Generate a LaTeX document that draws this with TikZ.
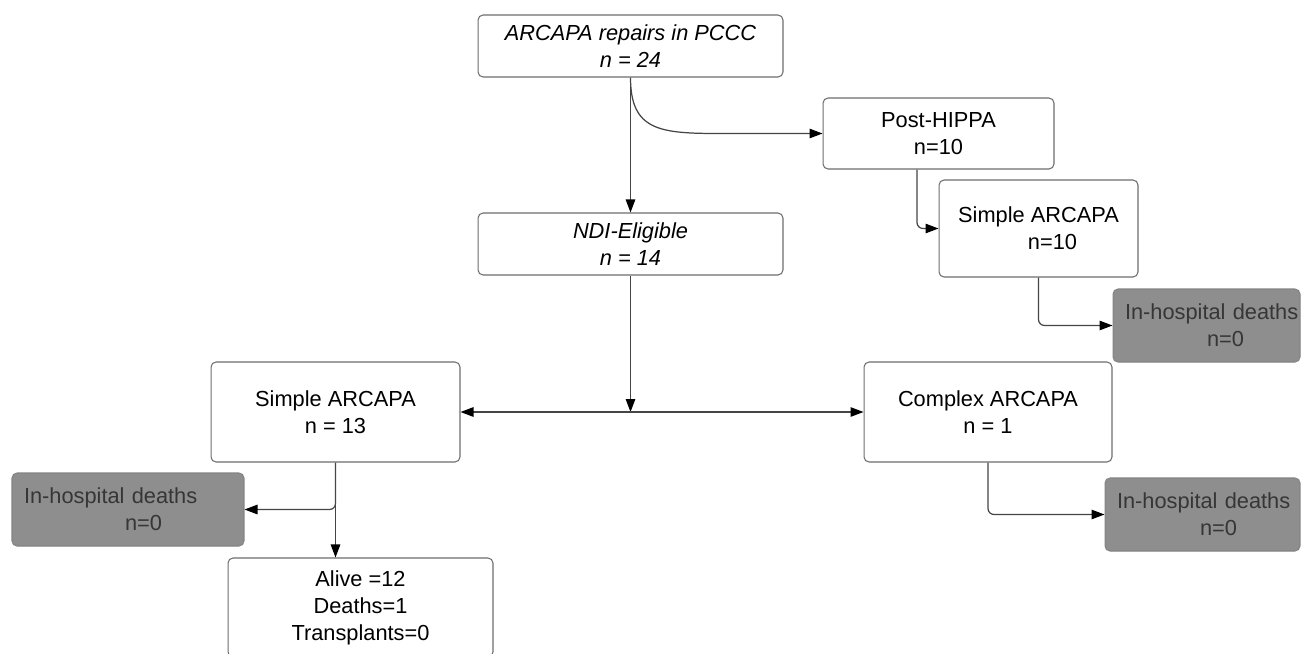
\documentclass[tikz,border=0pt]{standalone}
\usepackage{fontspec}
\setmainfont{Liberation Sans}
\usetikzlibrary{arrows.meta,calc}
\definecolor{boxline}{HTML}{6E6E6E}
\definecolor{deathfill}{HTML}{8E8E8E}
\definecolor{deathtext}{HTML}{363636}
\definecolor{linkgray}{HTML}{454545}

\begin{document}
\begin{tikzpicture}[x=0.02cm,y=-0.02cm,
  font=\fontsize{12.4}{15.4}\selectfont,
  flowbox/.style={draw=boxline,line width=0.6pt,rounded corners=1mm,fill=white,align=center,inner sep=0pt},
  deathbox/.style={draw=boxline!85,line width=0.6pt,rounded corners=1mm,fill=deathfill,text=deathtext,align=left,inner xsep=0.24cm,inner ysep=0pt},
  tip/.style={-{Triangle[length=2.6mm,width=1.9mm,color=black]}},
  link/.style={draw=linkgray,line width=0.7pt,rounded corners=1.2mm,tip}]
  \useasboundingbox (0,0) rectangle (1301,653);
  \fill[white] (0,0) rectangle (1301,653);
  \clip (0,0) rectangle (1301,653);
  % upper part
  \node[flowbox,minimum width=6.1cm,minimum height=1.24cm,font=\fontsize{12.4}{15.4}\selectfont\itshape] (pccc) at (630.5,46) {ARCAPA repairs in PCCC\\n = 24};
  \node[flowbox,minimum width=4.62cm,minimum height=1.42cm] (post) at (938.5,133.5) {Post-HIPPA\\n=10};
  \node[flowbox,minimum width=3.98cm,minimum height=1.94cm] (simpleB) at (1038.5,228.5) {Simple ARCAPA\\\hspace*{0.56cm}n=10};
  \node[deathbox,text width=3.26cm,minimum height=1.46cm] (deathA) at (1206.5,325.5) {\mbox{In-hospital deaths}\\\hspace*{1.64cm}n=0};
  \node[flowbox,minimum width=6.1cm,minimum height=1.24cm,font=\fontsize{12.4}{15.4}\selectfont\itshape] (ndi) at (630.5,244) {NDI-Eligible\\n = 14};
  % lower part
  \node[flowbox,minimum width=4.98cm,minimum height=2cm] (simpleA) at (335.5,412) {Simple ARCAPA\\n = 13};
  \node[flowbox,minimum width=4.96cm,minimum height=2cm] (complex) at (988,412) {Complex ARCAPA\\n = 1};
  \node[deathbox,text width=4.16cm,minimum height=1.46cm] (deathB) at (128,509.5) {\mbox{In-hospital deaths}\\\hspace*{2.02cm}n=0};
  \node[deathbox,text width=3.42cm,minimum height=1.46cm] (deathC) at (1202.5,514.5) {\mbox{In-hospital deaths}\\\hspace*{1.66cm}n=0};
  \node[flowbox,minimum width=5.3cm,minimum height=1.98cm] (alive) at (360.5,607.5) {Alive =12\\Deaths=1\\Transplants=0};
  % connectors
  \draw[link] (pccc.south) -- (pccc.south |- ndi.north);
  \draw[link,rounded corners=0pt] (pccc.south) .. controls +(0,53) and +(-60,0) .. ($(post.west)+(-103,0)$) -- (post.west);
  \draw[link] ([xshift=-0.43cm]post.south) |- (simpleB.west);
  \draw[link] (simpleB.south) |- (deathA.west);
  \draw[link] (ndi.south) -- (ndi.south |- simpleA.east);
  \draw[link,{Triangle[length=2.6mm,width=1.9mm,color=black]}-{Triangle[length=2.6mm,width=1.9mm,color=black]}] (simpleA.east) -- (complex.west);
  \draw[link] (simpleA.south) |- (deathB.east);
  \draw[link] (simpleA.south) -- (simpleA.south |- alive.north);
  \draw[link] (complex.south) |- (deathC.west);
\end{tikzpicture}
\end{document}
